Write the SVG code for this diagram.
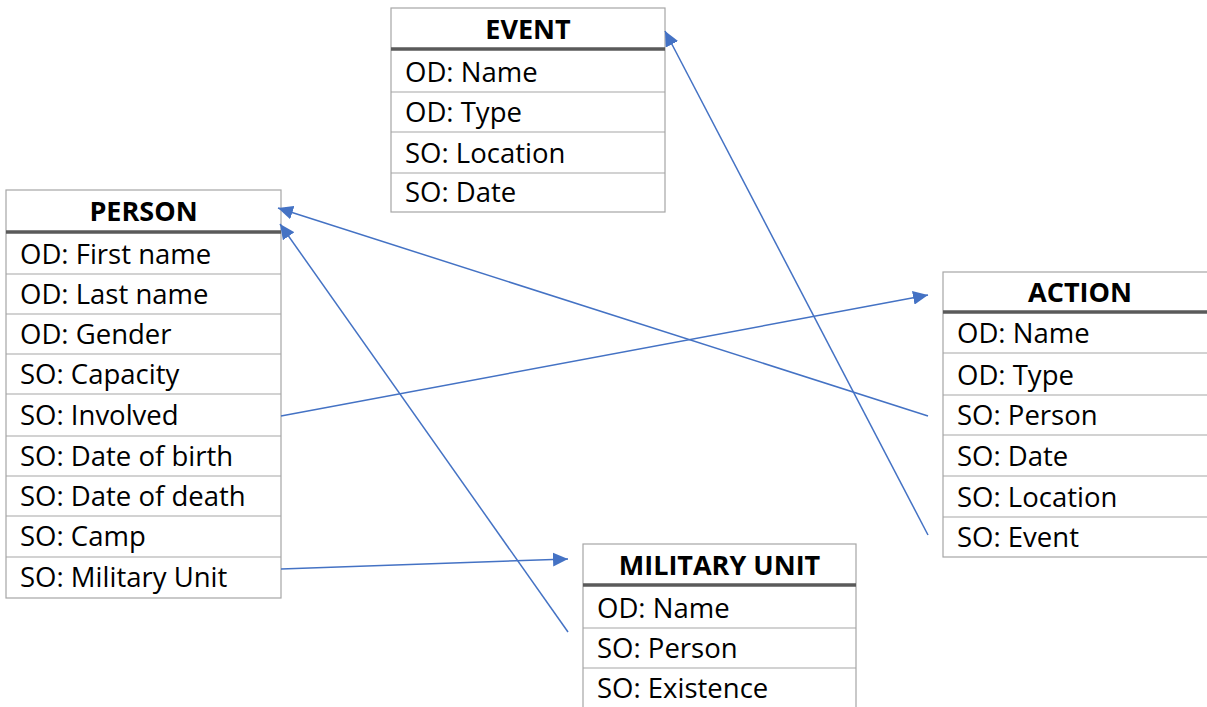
<svg xmlns="http://www.w3.org/2000/svg" width="1207" height="707" viewBox="0 0 1207 707">
<defs>
<style>
.box{fill:#fff;stroke:#a6a6a6;stroke-width:1.2}
.sep{stroke:#a6a6a6;stroke-width:1.2}
.hsep{stroke:#5a5a5a;stroke-width:3.5}
.t{font-family:"Open Sans","Liberation Sans",sans-serif;font-size:27.5px;fill:#000}
.h{font-family:"Open Sans","Liberation Sans",sans-serif;font-size:27px;font-weight:bold;fill:#000;text-anchor:middle}
.c{stroke:#4472c4;stroke-width:1.5;fill:none;marker-end:url(#ah)}
</style>
<marker id="ah" markerUnits="userSpaceOnUse" markerWidth="16" markerHeight="14" refX="15" refY="7" orient="auto">
<path d="M0,0 L15,7 L0,14 Z" fill="#4472c4"/>
</marker>
</defs>
<rect width="1207" height="707" fill="#fff"/>

<g id="event">
<rect class="box" x="391" y="8" width="274" height="204"/>
<line class="hsep" x1="391" y1="49" x2="665" y2="49"/>
<line class="sep" x1="391" y1="92" x2="665" y2="92"/>
<line class="sep" x1="391" y1="132" x2="665" y2="132"/>
<line class="sep" x1="391" y1="173" x2="665" y2="173"/>
<text class="h" x="528" y="39">EVENT</text>
<text class="t" x="405" y="82">OD: Name</text>
<text class="t" x="405" y="122">OD: Type</text>
<text class="t" x="405" y="163">SO: Location</text>
<text class="t" x="405" y="202">SO: Date</text>
</g>

<g id="person">
<rect class="box" x="6" y="190" width="275" height="408"/>
<line class="hsep" x1="6" y1="232" x2="281" y2="232"/>
<line class="sep" x1="6" y1="274" x2="281" y2="274"/>
<line class="sep" x1="6" y1="314" x2="281" y2="314"/>
<line class="sep" x1="6" y1="354" x2="281" y2="354"/>
<line class="sep" x1="6" y1="394" x2="281" y2="394"/>
<line class="sep" x1="6" y1="436" x2="281" y2="436"/>
<line class="sep" x1="6" y1="476" x2="281" y2="476"/>
<line class="sep" x1="6" y1="516" x2="281" y2="516"/>
<line class="sep" x1="6" y1="557" x2="281" y2="557"/>
<text class="h" x="143.5" y="221">PERSON</text>
<text class="t" x="20" y="264">OD: First name</text>
<text class="t" x="20" y="304">OD: Last name</text>
<text class="t" x="20" y="344">OD: Gender</text>
<text class="t" x="20" y="384">SO: Capacity</text>
<text class="t" x="20" y="425">SO: Involved</text>
<text class="t" x="20" y="466">SO: Date of birth</text>
<text class="t" x="20" y="506">SO: Date of death</text>
<text class="t" x="20" y="546">SO: Camp</text>
<text class="t" x="20" y="587">SO: Military Unit</text>
</g>

<g id="action">
<rect class="box" x="943" y="272" width="275" height="285"/>
<line class="hsep" x1="943" y1="312" x2="1218" y2="312"/>
<line class="sep" x1="943" y1="353" x2="1218" y2="353"/>
<line class="sep" x1="943" y1="395" x2="1218" y2="395"/>
<line class="sep" x1="943" y1="435" x2="1218" y2="435"/>
<line class="sep" x1="943" y1="476" x2="1218" y2="476"/>
<line class="sep" x1="943" y1="517" x2="1218" y2="517"/>
<text class="h" x="1080" y="302">ACTION</text>
<text class="t" x="957" y="343">OD: Name</text>
<text class="t" x="957" y="385">OD: Type</text>
<text class="t" x="957" y="425">SO: Person</text>
<text class="t" x="957" y="466">SO: Date</text>
<text class="t" x="957" y="507">SO: Location</text>
<text class="t" x="957" y="547">SO: Event</text>
</g>

<g id="military-unit">
<rect class="box" x="583" y="544" width="273" height="170"/>
<line class="hsep" x1="583" y1="585" x2="856" y2="585"/>
<line class="sep" x1="583" y1="628" x2="856" y2="628"/>
<line class="sep" x1="583" y1="668" x2="856" y2="668"/>
<text class="h" x="719.5" y="575">MILITARY UNIT</text>
<text class="t" x="597" y="618">OD: Name</text>
<text class="t" x="597" y="658">SO: Person</text>
<text class="t" x="597" y="698">SO: Existence</text>
</g>

<g id="connectors">
<line class="c" x1="928" y1="535" x2="665" y2="31"/>
<line class="c" x1="928" y1="416" x2="278" y2="208"/>
<line class="c" x1="568" y1="632" x2="280" y2="224"/>
<line class="c" x1="281" y1="416" x2="928" y2="295"/>
<line class="c" x1="281" y1="569" x2="568" y2="559"/>
</g>
</svg>
